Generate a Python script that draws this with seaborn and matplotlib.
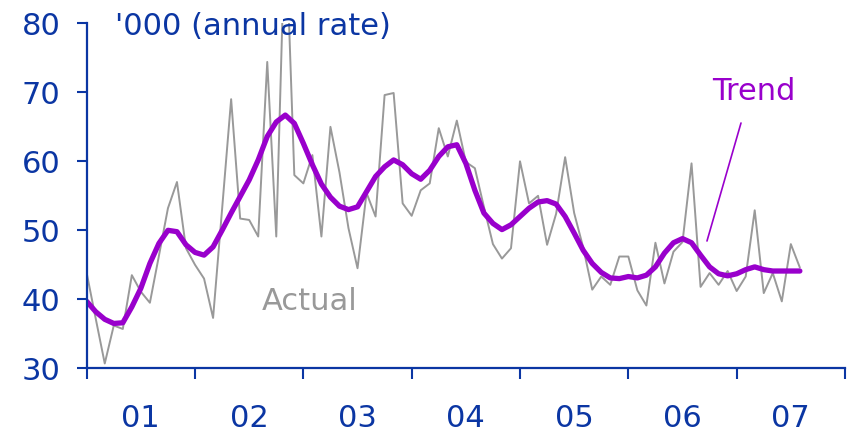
import numpy as np
import pandas as pd
import matplotlib
matplotlib.use("Agg")
import matplotlib.pyplot as plt
import seaborn as sns

# Monthly series, Jan 2001 - Aug 2007 ('000, annual rate)
months = pd.date_range("2001-01-01", periods=80, freq="MS")
actual = [
    43.8, 37.2, 30.7, 36.2, 35.7, 43.5, 41.1, 39.5, 46.3, 53.2,
    57.0, 47.4, 45.0, 43.0, 37.3, 53.1, 69.0, 51.7, 51.5, 49.1,
    74.4, 49.1, 95.6, 58.0, 56.8, 60.9, 49.1, 65.0, 58.4, 50.3,
    44.5, 55.4, 52.0, 69.6, 69.9, 53.9, 52.1, 55.8, 56.8, 64.8,
    60.7, 65.9, 59.9, 59.0, 53.4, 48.0, 45.9, 47.4, 60.0, 53.9,
    55.0, 47.9, 52.4, 60.6, 52.5, 47.5, 41.4, 43.3, 42.1, 46.2,
    46.2, 41.3, 39.1, 48.2, 42.3, 46.9, 48.3, 59.7, 41.8, 43.8,
    42.1, 44.1, 41.2, 43.3, 52.9, 40.9, 43.8, 39.7, 48.0, 44.6,
]
trend = [
    39.7, 38.2, 37.1, 36.5, 36.6, 38.9, 41.6, 45.2, 48.1, 50.0,
    49.8, 47.9, 46.8, 46.4, 47.6, 50.0, 52.5, 54.9, 57.3, 60.2,
    63.6, 65.7, 66.7, 65.5, 62.6, 59.5, 56.7, 54.8, 53.5, 53.0,
    53.4, 55.6, 57.8, 59.2, 60.2, 59.5, 58.2, 57.4, 58.7, 60.7,
    62.1, 62.4, 59.7, 55.8, 52.5, 51.0, 50.1, 50.8, 52.0, 53.2,
    54.1, 54.3, 53.8, 52.0, 49.6, 47.1, 45.2, 43.9, 43.1, 43.0,
    43.3, 43.1, 43.5, 44.7, 46.7, 48.2, 48.8, 48.2, 46.4, 44.7,
    43.7, 43.4, 43.7, 44.3, 44.7, 44.3, 44.1, 44.1, 44.1, 44.1,
]
year_labels = ["01", "02", "03", "04", "05", "06", "07"]
y_ticks = [30, 40, 50, 60, 70, 80]

BLUE = "#0b36a3"
GREY = "#999999"
PURPLE = "#9900cc"
FS = 22

sns.set_theme(style="white")
plt.rcParams["font.family"] = ["DejaVu Sans"]

df = pd.DataFrame({
    "t": months.year + (months.month - 1) / 12.0,
    "Actual": actual,
    "Trend": trend,
})

fig = plt.figure(figsize=(8.55, 4.33), dpi=100)
ax = fig.add_axes([0.1014, 0.1494, 0.8869, 0.7968])

sns.lineplot(data=df, x="t", y="Actual", ax=ax, color=GREY, linewidth=1.4)
sns.lineplot(data=df, x="t", y="Trend", ax=ax, color=PURPLE, linewidth=3.8,
             solid_capstyle="round", solid_joinstyle="round")

ax.set_xlim(2001, 2008)
ax.set_ylim(30, 80)
ax.set_xlabel("")
ax.set_ylabel("")

# year boundaries as ticks, year labels centred between them
ax.set_xticks(np.arange(2001, 2009))
ax.set_xticklabels([])
ax.set_xticks(np.arange(2001, 2008) + 0.5, minor=True)
ax.set_xticklabels(year_labels, minor=True)
ax.tick_params(axis="x", which="major", direction="out", length=8, width=1.5,
               color=BLUE, bottom=True)
ax.tick_params(axis="x", which="minor", length=0, pad=26, labelsize=FS,
               labelcolor=BLUE)

ax.set_yticks(y_ticks)
ax.set_yticklabels([str(v) for v in y_ticks])
ax.tick_params(axis="y", direction="out", length=7, width=1.5, color=BLUE,
               left=True, pad=12, labelsize=FS, labelcolor=BLUE)

for side in ("top", "right"):
    ax.spines[side].set_visible(False)
for side in ("left", "bottom"):
    ax.spines[side].set_color(BLUE)
    ax.spines[side].set_linewidth(1.6)

ax.text(2001.261, 78.3, "'000 (annual rate)", color=BLUE, fontsize=FS,
        ha="left", va="baseline")
ax.text(2002.618, 38.45, "Actual", color=GREY, fontsize=FS,
        ha="left", va="baseline")
ax.text(2006.772, 68.9, "Trend", color=PURPLE, fontsize=FS,
        ha="left", va="baseline")
ax.plot([2007.040, 2006.726], [65.55, 48.45], color=PURPLE, linewidth=1.2,
        clip_on=False)

fig.savefig("out.png", dpi=100)
